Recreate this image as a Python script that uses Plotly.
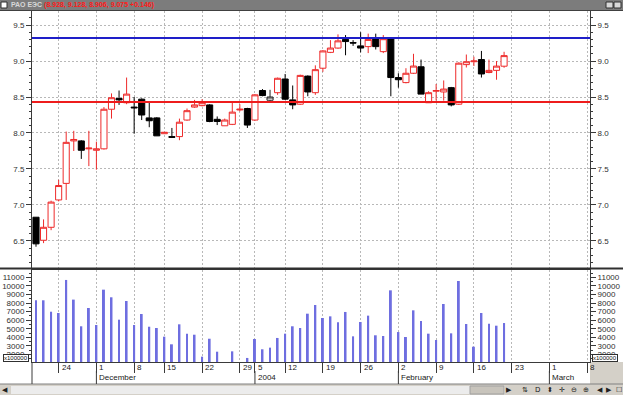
import plotly.graph_objects as go

# ---------------- data ----------------
dates = (
    ["2003-11-%02d" % d for d in [19, 20, 21, 24, 25, 26, 27, 28]]
    + ["2003-12-%02d" % d for d in [1, 2, 3, 4, 5, 8, 9, 10, 11, 15, 16, 17, 18, 19,
                                     22, 23, 24, 25, 26, 29, 30]]
    + ["2004-01-%02d" % d for d in [5, 6, 8, 9, 12, 13, 14, 15, 16, 19, 20, 21, 22, 23,
                                     26, 27, 28, 29, 30]]
    + ["2004-02-%02d" % d for d in [2, 3, 4, 5, 6, 9, 10, 11, 12, 13, 16, 17, 18, 19, 20]]
)

opens = [6.83, 6.51, 6.69, 7.07, 7.30, 7.89, 7.89, 7.78, 7.76, 7.78,
         8.33, 8.48, 8.42, 8.36, 8.47, 8.21, 8.21, 7.99, 7.95, 7.95,
         8.18, 8.36, 8.38, 8.39, 8.19, 8.10, 8.12, 8.32, 8.34, 8.18,
         8.59, 8.455, 8.56, 8.75, 8.46, 8.40, 8.79, 8.56, 8.90, 9.12,
         9.18, 9.30, 9.255, 9.21, 9.20, 9.31, 9.13, 9.32, 8.77, 8.70,
         8.83, 8.92, 8.42, 8.58, 8.57, 8.63, 8.40, 8.95, 8.99, 9.02,
         8.84, 8.87, 8.928]
highs = [6.83, 6.80, 7.06, 7.35, 8.02, 8.03, 7.90, 8.03, 7.88, 8.36,
         8.55, 8.59, 8.77, 8.50, 8.48, 8.43, 8.22, 8.01, 8.07, 8.20,
         8.34, 8.46, 8.47, 8.40, 8.23, 8.20, 8.42, 8.40, 8.35, 8.54,
         8.61, 8.60, 8.77, 8.82, 8.66, 8.81, 8.80, 8.94, 9.15, 9.29,
         9.37, 9.36, 9.29, 9.40, 9.38, 9.38, 9.36, 9.33, 8.83, 8.90,
         9.10, 9.02, 8.58, 8.68, 8.73, 8.64, 8.98, 9.09, 9.06, 9.14,
         9.02, 9.00, 9.128]
lows = [6.42, 6.47, 6.65, 7.05, 7.07, 7.75, 7.64, 7.54, 7.49, 7.77,
        8.20, 8.39, 8.40, 7.99, 8.18, 8.08, 7.96, 7.99, 7.93, 7.90,
        8.17, 8.35, 8.37, 8.15, 8.11, 8.10, 8.11, 8.30, 8.07, 8.17,
        8.51, 8.43, 8.53, 8.46, 8.33, 8.39, 8.51, 8.53, 8.85, 9.11,
        9.17, 9.08, 9.21, 9.12, 9.11, 9.16, 9.11, 8.51, 8.63, 8.69,
        8.82, 8.54, 8.42, 8.45, 8.45, 8.37, 8.39, 8.91, 8.93, 8.77,
        8.83, 8.74, 8.906]
closes = [6.46, 6.69, 7.04, 7.27, 7.87, 7.91, 7.76, 7.79, 7.78, 8.33,
          8.49, 8.46, 8.54, 8.35, 8.25, 8.17, 7.96, 8.01, 7.94, 8.15,
          8.31, 8.39, 8.42, 8.16, 8.16, 8.18, 8.29, 8.33, 8.11, 8.53,
          8.52, 8.50, 8.76, 8.47, 8.39, 8.80, 8.57, 8.88, 9.14, 9.18,
          9.28, 9.27, 9.25, 9.18, 9.30, 9.20, 9.31, 8.77, 8.74, 8.83,
          8.93, 8.54, 8.56, 8.59, 8.61, 8.39, 8.97, 8.99, 9.00, 8.82,
          8.87, 8.929, 9.075]
volumes = [8320, 8320, 6990, 6840, 10690, 8400, 5290, 7420, 5440, 9560,
           8670, 6060, 8240, 5440, 6720, 5240, 5090, 4080, 3190, 5520,
           4430, 4310, 1750, 3840, 2330, 1000, 2370, 1000, 1600, 3810,
           2610, 2800, 3930, 4430, 5290, 5090, 6760, 7770, 6260, 6450,
           5750, 6960, 4120, 5790, 6530, 4240, 4160, 9480, 4620, 4040,
           7150, 5910, 4430, 3690, 7890, 4470, 10570, 5560, 2910, 6840,
           5600, 5360, 5670]
outlined_candles = [31]           # candle drawn hollow with a dark outline

levels = [9.32, 8.43]            # resistance / support lines

week_tick_idx = [3, 8, 13, 17, 22, 27, 29, 33, 38, 43, 48, 53, 58, 63, 68, 73]
week_tick_text = ["24", "1", "8", "15", "22", "29", "5", "12", "19", "26",
                  "2", "9", "16", "23", "1", "8"]
month_idx = [8, 29, 48, 68]
month_text = ["December", "2004", "February", "March"]

instrument = "РАО ЕЭС"

# ---------------- styling / geometry ----------------
W, H = 623, 395
ML, MR, MT, MB = 32, 33, 11, 33
PW, PH = W - ML - MR, H - MT - MB


def px(xp):
    return (xp - ML) / PW


def py(yp):
    return (H - MB - yp) / PH


RED = "#ee2a2a"
LEVEL_COLORS = ["#1e1ec8", "#ee1c1c"]
VOL_COLOR = "#6e6ee0"
GRID = "#b8b8b8"
AX = "#3a3a3a"
FONT = "Liberation Sans, Arial, sans-serif"

xs = list(range(len(dates)))

fig = go.Figure()

main = [i for i in xs if i not in outlined_candles]
fig.add_trace(go.Candlestick(
    x=main,
    open=[opens[i] for i in main], high=[highs[i] for i in main],
    low=[lows[i] for i in main], close=[closes[i] for i in main],
    increasing=dict(line=dict(color=RED, width=1), fillcolor="white"),
    decreasing=dict(line=dict(color="black", width=1), fillcolor="black"),
    whiskerwidth=0, xaxis="x", yaxis="y", hoverinfo="skip"))
fig.add_trace(go.Candlestick(
    x=outlined_candles,
    open=[opens[i] for i in outlined_candles], high=[highs[i] for i in outlined_candles],
    low=[lows[i] for i in outlined_candles], close=[closes[i] for i in outlined_candles],
    increasing=dict(line=dict(color="#222222", width=1), fillcolor="white"),
    decreasing=dict(line=dict(color="#222222", width=1), fillcolor="white"),
    whiskerwidth=0, xaxis="x", yaxis="y", hoverinfo="skip"))

fig.add_trace(go.Bar(x=xs, y=volumes, width=0.26, marker=dict(color=VOL_COLOR, line=dict(width=0)),
                     xaxis="x2", yaxis="y2", hoverinfo="skip"))

# invisible carriers so the right-hand mirror axes are drawn
fig.add_trace(go.Scatter(x=[xs[0]], y=[closes[0]], xaxis="x", yaxis="y3", mode="markers",
                         marker=dict(opacity=0), hoverinfo="skip"))
fig.add_trace(go.Scatter(x=[xs[0]], y=[volumes[0]], xaxis="x2", yaxis="y4", mode="markers",
                         marker=dict(opacity=0), hoverinfo="skip"))

shapes = []
for lev, col in zip(levels, LEVEL_COLORS):
    shapes.append(dict(type="line", xref="paper", yref="y", x0=0, x1=1, y0=lev, y1=lev,
                       line=dict(color=col, width=2), layer="above"))

# window chrome: title bar, bottom scrollbar, side fills
shapes += [
    dict(type="rect", xref="paper", yref="paper", x0=px(0), x1=px(W), y0=py(10), y1=py(0),
         fillcolor="#7c7c7c", line=dict(width=0), layer="above"),
    dict(type="line", xref="paper", yref="paper", x0=px(0), x1=px(W), y0=py(10.5), y1=py(10.5),
         line=dict(color="#404040", width=1), layer="above"),
    dict(type="rect", xref="paper", yref="paper", x0=px(1), x1=px(7), y0=py(8), y1=py(2),
         fillcolor="white", line=dict(color="#303030", width=1), layer="above"),
    dict(type="rect", xref="paper", yref="paper", x0=px(606), x1=px(613), y0=py(8), y1=py(2),
         fillcolor="#d8d8d8", line=dict(color="#303030", width=1), layer="above"),
    dict(type="rect", xref="paper", yref="paper", x0=px(614), x1=px(621), y0=py(8), y1=py(2),
         fillcolor="#d8d8d8", line=dict(color="#303030", width=1), layer="above"),
    dict(type="rect", xref="paper", yref="paper", x0=px(590), x1=px(W), y0=py(384), y1=py(362),
         fillcolor="#d4d0c8", line=dict(width=0), layer="below"),
    dict(type="rect", xref="paper", yref="paper", x0=px(0), x1=px(W), y0=py(H), y1=py(384),
         fillcolor="#d4d0c8", line=dict(width=0), layer="above"),
    dict(type="rect", xref="paper", yref="paper", x0=px(11), x1=px(505), y0=py(394), y1=py(386),
         fillcolor="#ececec", line=dict(width=0), layer="above"),
    dict(type="rect", xref="paper", yref="paper", x0=px(470), x1=px(504), y0=py(394), y1=py(386),
         fillcolor="#c8c4bc", line=dict(color="#a0a0a0", width=1), layer="above"),
    dict(type="line", xref="paper", yref="paper", x0=px(0), x1=px(W), y0=py(384), y1=py(384),
         line=dict(color="#808080", width=1), layer="above"),
    dict(type="line", xref="paper", yref="paper", x0=0, x1=0, y0=py(384), y1=py(362),
         line=dict(color=AX, width=1), layer="above"),
    dict(type="line", xref="paper", yref="paper", x0=px(0), x1=px(W), y0=py(268.5), y1=py(268.5),
         line=dict(color="#303030", width=2), layer="above"),
]
for m in month_idx:
    shapes.append(dict(type="line", xref="x", yref="paper", x0=m, x1=m, y0=py(384), y1=py(371),
                       line=dict(color=AX, width=1), layer="above"))

annotations = []
for t, lab in zip(week_tick_idx, week_tick_text):
    annotations.append(dict(x=t, y=py(367.5), xref="x", yref="paper", text=lab, showarrow=False,
                            xanchor="left", yanchor="middle", xshift=1,
                            font=dict(family=FONT, size=8, color="#202020")))
for m, lab in zip(month_idx, month_text):
    annotations.append(dict(x=m, y=py(378), xref="x", yref="paper", text=lab, showarrow=False,
                            xanchor="left", yanchor="middle", xshift=1,
                            font=dict(family=FONT, size=8, color="#202020")))

title_vals = "(%.3f, %.3f, %.3f, %.3f +%.3f)" % (opens[-1], highs[-1], lows[-1], closes[-1],
                                                closes[-1] - closes[-2])
annotations.append(dict(x=px(9), y=py(5), xref="paper", yref="paper", showarrow=False,
                        xanchor="left", yanchor="middle",
                        text="<b><span style='color:#d8d8d8'>%s</span> "
                             "<span style='color:#ff1a1a'>%s</span></b>" % (instrument, title_vals),
                        font=dict(family=FONT, size=7)))
for xp in (3, 592):
    annotations.append(dict(x=px(xp), y=py(357.5), xref="paper", yref="paper", showarrow=False,
                            xanchor="left", yanchor="middle", text="x100000",
                            font=dict(family=FONT, size=6, color="#101010"),
                            bgcolor="white", bordercolor="#303030", borderwidth=1, borderpad=0))
for xp, sym in [(5, "◀"), (509, "▶"), (525, "⇅"), (537, "D"), (550, "⬍"), (562, "✛"),
                (574, "⊖"), (586, "⊕"), (600, "◀"), (609, "▶"), (619, "☐")]:
    annotations.append(dict(x=px(xp), y=py(389.5), xref="paper", yref="paper", showarrow=False,
                            xanchor="center", yanchor="middle", text=sym,
                            font=dict(family="DejaVu Sans", size=7, color="#202020")))

xcommon = dict(range=[-0.53, 73.38], tickmode="array", tickvals=week_tick_idx,
               showticklabels=False, showgrid=True, gridcolor=GRID, griddash="2px,2px",
               gridwidth=1, zeroline=False, showline=True, linecolor=AX, linewidth=1,
               mirror=True, automargin=False)

ycommon = dict(zeroline=False, showline=True, linecolor=AX, linewidth=1, automargin=False,
               ticks="outside", ticklen=5, tickcolor=AX, tickfont=dict(family=FONT, size=8, color="#303030"))

fig.update_layout(
    width=W, height=H, margin=dict(l=ML, r=MR, t=MT, b=MB, pad=0, autoexpand=False),
    paper_bgcolor="white", plot_bgcolor="white", showlegend=False,
    boxgap=0.15, boxgroupgap=0.05,
    font=dict(family=FONT, size=8, color="#303030"),
    xaxis=dict(anchor="y", domain=[0, 1], rangeslider=dict(visible=False), ticks="", **xcommon),
    xaxis2=dict(anchor="y2", domain=[0, 1], matches="x", ticks="outside", ticklen=10,
                tickcolor=AX, **xcommon),
    yaxis=dict(domain=[py(269), 1], range=[6.1106, 9.6947], dtick=0.5, tick0=0, tickformat=".1f",
               showgrid=True, gridcolor=GRID, griddash="2px,2px",
               minor=dict(dtick=0.1, ticks="outside", ticklen=2, tickcolor=AX), anchor="x",
               side="left", **ycommon),
    yaxis3=dict(overlaying="y", matches="y", side="right", anchor="x", dtick=0.5, tick0=0,
                tickformat=".1f", showgrid=False,
                minor=dict(dtick=0.1, ticks="outside", ticklen=2, tickcolor=AX), **ycommon),
    yaxis2=dict(domain=[0, py(270)], range=[1128, 11851], dtick=1000, tick0=0, tickformat="d",
                showgrid=False, anchor="x2", side="left",
                minor=dict(dtick=500, ticks="outside", ticklen=2, tickcolor=AX), **ycommon),
    yaxis4=dict(overlaying="y2", matches="y2", side="right", anchor="x2", dtick=1000, tick0=0,
                tickformat="d", showgrid=False,
                minor=dict(dtick=500, ticks="outside", ticklen=2, tickcolor=AX), **ycommon),
    shapes=shapes, annotations=annotations,
)

fig.write_html("out.html", config={"displayModeBar": False},
               post_script="document.body.style.margin='0';")
